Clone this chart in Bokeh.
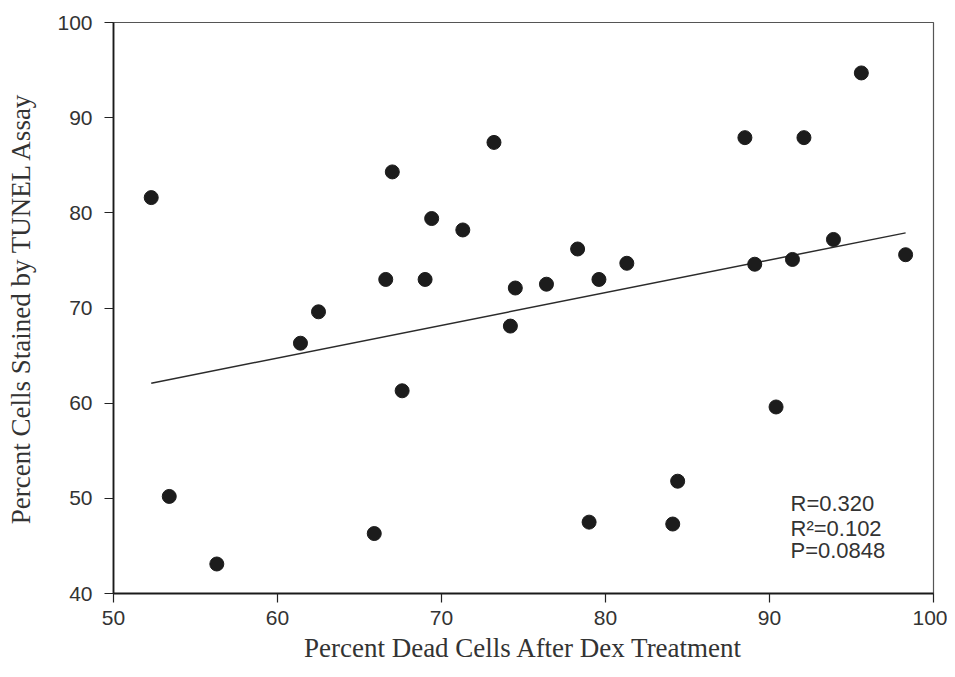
import numpy as np
from bokeh.plotting import figure
from bokeh.models import Label, Range1d, FixedTicker
from bokeh.embed import file_html
from bokeh.resources import INLINE

# Data
dead_cells = [52.3, 53.4, 56.3, 61.4, 62.5, 65.9, 66.6, 67.0, 67.6, 69.0,
              69.4, 71.3, 73.2, 74.2, 74.5, 76.4, 78.3, 79.0, 79.6, 81.3,
              84.1, 84.4, 88.5, 89.1, 90.4, 91.4, 92.1, 93.9, 95.6, 98.3]
tunel_cells = [81.6, 50.2, 43.1, 66.3, 69.6, 46.3, 73.0, 84.3, 61.3, 73.0,
               79.4, 78.2, 87.4, 68.1, 72.1, 72.5, 76.2, 47.5, 73.0, 74.7,
               47.3, 51.8, 87.9, 74.6, 59.6, 75.1, 87.9, 77.2, 94.7, 75.6]
x_ticks = [50, 60, 70, 80, 90, 100]
y_ticks = [40, 50, 60, 70, 80, 90, 100]
stats_text = ["R=0.320", "R\u00b2=0.102", "P=0.0848"]

x_label = "Percent Dead Cells After Dex Treatment"
y_label = "Percent Cells Stained by TUNEL Assay"

p = figure(width=947, height=669, output_backend="svg", toolbar_location=None,
           x_range=Range1d(50, 100), y_range=Range1d(40, 100),
           min_border_left=113, min_border_right=14, min_border_top=22,
           min_border_bottom=76)
p.grid.visible = False
p.background_fill_color = "white"
p.border_fill_color = "white"
p.outline_line_color = "#555555"
p.outline_line_width = 1.2

# Regression line computed from the data
xs = np.array(dead_cells)
ys = np.array(tunel_cells)
slope, intercept = np.polyfit(xs, ys, 1)
lx = [xs.min(), xs.max()]
ly = [slope * v + intercept for v in lx]
p.line(lx, ly, line_color="#2b2b2b", line_width=1.5)

p.scatter(dead_cells, tunel_cells, size=14, fill_color="#1c1c1c",
          line_color="#1c1c1c")

for ax, ticks in ((p.xaxis, x_ticks), (p.yaxis, y_ticks)):
    ax.ticker = FixedTicker(ticks=ticks)
    ax.minor_tick_line_color = None
    ax.major_tick_in = 0
    ax.major_tick_out = 9
    ax.major_tick_line_color = "#222222"
    ax.major_tick_line_width = 1.2
    ax.axis_line_color = "#1a1a1a"
    ax.axis_line_width = 1.8
    ax.major_label_text_font = "Liberation Sans"
    ax.major_label_text_font_size = "21px"
    ax.major_label_text_color = "#333333"
    ax.axis_label_text_font = "Liberation Serif"
    ax.axis_label_text_font_size = "27px"
    ax.axis_label_text_font_style = "normal"
    ax.axis_label_text_color = "#333333"

p.xaxis.axis_label = x_label
p.yaxis.axis_label = y_label
p.xaxis.major_label_standoff = 8
p.yaxis.major_label_standoff = 12
p.xaxis.axis_label_standoff = 5
p.yaxis.axis_label_standoff = 18

stat_y = [49.42, 46.79, 44.48]
for t, yy in zip(stats_text, stat_y):
    p.add_layout(Label(x=91.28, y=yy, text=t, text_font="Liberation Sans",
                       text_font_size="22px", text_color="#333333",
                       text_baseline="alphabetic", text_align="left"))

open("out.html", "w").write(file_html(p, INLINE))
